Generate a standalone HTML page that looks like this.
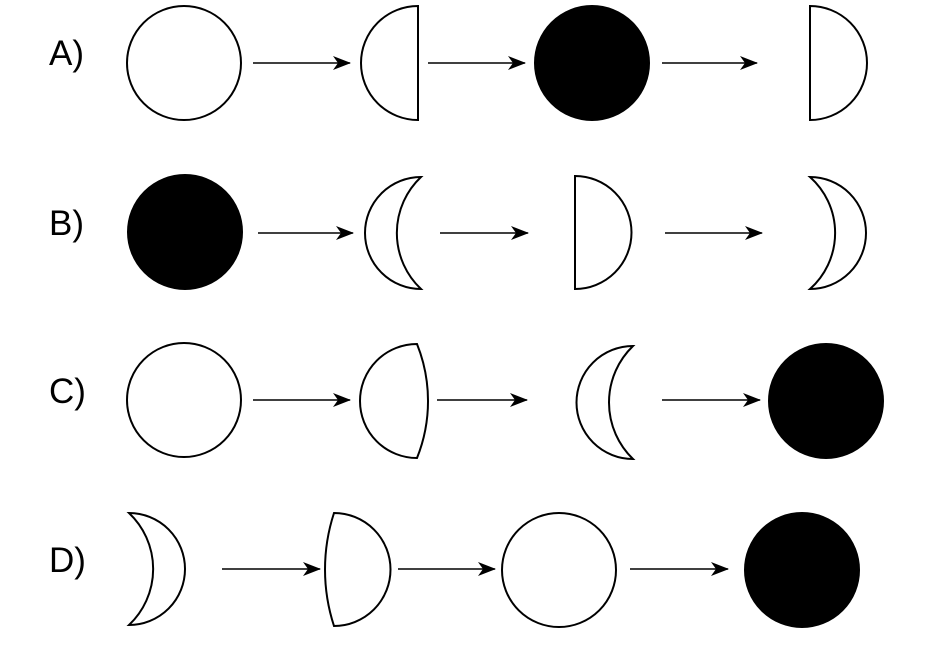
<!DOCTYPE html>
<html><head><meta charset="utf-8"><style>
html,body{margin:0;padding:0;background:#fff;}
svg{display:block;}
text{font-family:"Liberation Sans",sans-serif;font-size:35px;fill:#000;}
</style></head><body>
<svg width="930" height="661" viewBox="0 0 930 661" xmlns="http://www.w3.org/2000/svg">
<defs>
<marker id="ah" markerWidth="18" markerHeight="14" refX="17" refY="7" orient="auto" markerUnits="userSpaceOnUse">
<path d="M0,0 L18,7 L0,14 L5,7 Z" fill="#000"/>
</marker>
</defs>
<g stroke="#000" stroke-width="1.6" marker-end="url(#ah)">
<line x1="253" y1="63" x2="350" y2="63"/>
<line x1="428" y1="63" x2="525" y2="63"/>
<line x1="662" y1="63" x2="757" y2="63"/>
<line x1="258" y1="233" x2="353" y2="233"/>
<line x1="440" y1="233" x2="528" y2="233"/>
<line x1="665" y1="233" x2="762" y2="233"/>
<line x1="253" y1="400" x2="350" y2="400"/>
<line x1="437" y1="400" x2="527" y2="400"/>
<line x1="662" y1="400" x2="760" y2="400"/>
<line x1="222" y1="569" x2="320" y2="569"/>
<line x1="398" y1="569" x2="495" y2="569"/>
<line x1="630" y1="569" x2="728" y2="569"/>
</g>
<g stroke="#000" stroke-width="2" fill="#fff">
<circle cx="184" cy="63" r="57"/>
<path d="M418,6 A57,57 0 0 0 418,120 Z"/>
<circle cx="592" cy="63" r="57" fill="#000"/>
<path d="M810,6 A57,57 0 0 1 810,120 Z"/>

<circle cx="185" cy="232" r="57" fill="#000"/>
<path d="M421,177 A56,56 0 1 0 421,289 A77,77 0 0 1 421,177 Z"/>
<path d="M575,176 A56.5,56.5 0 1 1 575,289 Z"/>
<path d="M810,177 A56,56 0 1 1 810,289 A75,75 0 0 0 810,177 Z"/>

<circle cx="184" cy="400" r="57"/>
<path d="M417,344 A57,57 0 1 0 417,458 A153,153 0 0 0 417,344 Z"/>
<path d="M633,346 A56.5,56.5 0 1 0 633,459 A78.5,78.5 0 0 1 633,346 Z"/>
<circle cx="826" cy="401" r="57" fill="#000"/>

<path d="M129,513 A56,56 0 1 1 129,625 A77,77 0 0 0 129,513 Z"/>
<path d="M334,513 A56.5,56.5 0 1 1 334,626 A182,182 0 0 1 334,513 Z"/>
<circle cx="559" cy="570" r="57"/>
<circle cx="802" cy="570" r="57" fill="#000"/>
</g>
<text x="49" y="65">A)</text>
<text x="49" y="235">B)</text>
<text x="49" y="403">C)</text>
<text x="49" y="572">D)</text>
</svg>
</body></html>
